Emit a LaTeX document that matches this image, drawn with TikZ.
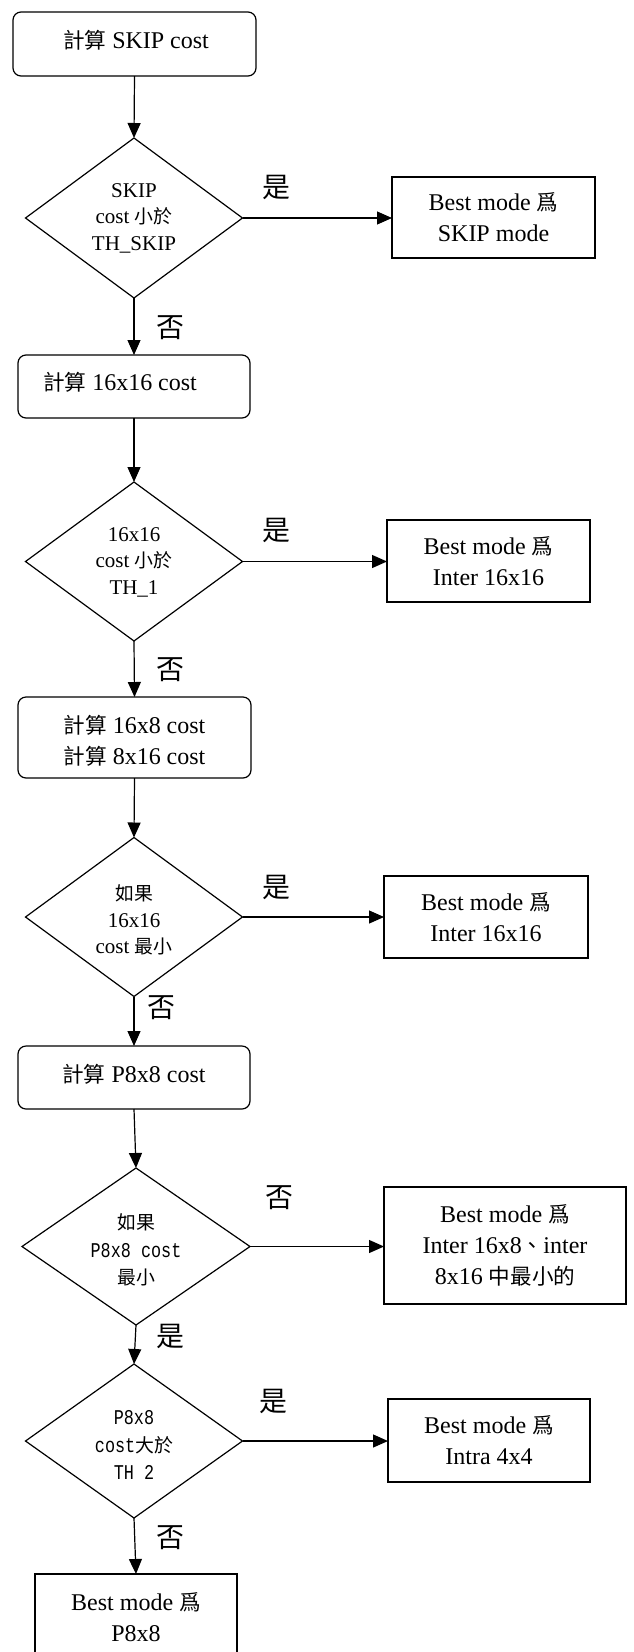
\documentclass[tikz,border=0pt]{standalone}
\usepackage{fontspec}
\setmainfont{Liberation Serif}
\newfontfamily\cjk{Noto Sans CJK TC}[Scale=0.9]
\newfontfamily\halfmono{Liberation Mono}[FakeStretch=0.8]
\usetikzlibrary{arrows.meta,shapes.geometric}
\newcommand{\zh}[1]{{\cjk #1}}

\tikzset{
  every node/.style={inner sep=0pt, outer sep=0pt},
  line/.style={line width=1.2pt},
  flow/.style={line, -{Triangle[length=15pt,width=13pt]}},
  btext/.style={font=\fontsize{24}{31}\selectfont, align=center},
  dtext/.style={font=\fontsize{21}{26.5}\selectfont, align=center},
  mtext/.style={font=\fontsize{21}{27.5}\selectfont\halfmono, align=center},
  yn/.style={font=\fontsize{31}{31}\selectfont\cjk},
  procbox/.style 2 args={draw, line, rounded corners=8pt,
    minimum width=#1, minimum height=#2},
  outbox/.style 2 args={draw, line, btext,
    minimum width=#1, minimum height=#2},
  decision/.style 2 args={draw, line, diamond, minimum width=#1,
    minimum height=#2},
}

\begin{document}
\begin{tikzpicture}[x=1pt, y=-1pt]
  \useasboundingbox (0,0) rectangle (633,1652);
  \fill[white] (0,0) rectangle (633,1652);
  \clip (0,0) rectangle (633,1652);

  % left column: processing steps and decisions
  \node[procbox={243pt}{64pt}] (c1) at (134.5,44) {};
  \node[btext] (c1t) at (136,40) {\zh{計算} SKIP cost};
  \node[decision={217pt}{160pt}] (d1) at (134,218) {};
  \node[dtext] (d1t) at (134,218) {SKIP\\cost \zh{小於}\\TH\_SKIP};

  \node[procbox={232pt}{63pt}] (c2) at (134,386.5) {};
  \node[btext] (c2t) at (120,382) {\zh{計算} 16x16 cost};
  \node[decision={217pt}{159pt}] (d2) at (134,561.5) {};
  \node[dtext] (d2t) at (134,562) {16x16\\cost \zh{小於}\\TH\_1};

  \node[procbox={233pt}{81pt}] (c3) at (134.5,737.5) {};
  \node[btext] (c3t) at (134.5,741) {\zh{計算} 16x8 cost\\\zh{計算} 8x16 cost};
  \node[decision={217pt}{159pt}] (d3) at (134,917) {};
  \node[dtext] (d3t) at (134,920) {\zh{如果}\\16x16\\cost \zh{最小}};

  \node[procbox={232pt}{63pt}] (c4) at (134,1077.5) {};
  \node[btext] (c4t) at (134,1074) {\zh{計算} P8x8 cost};
  \node[decision={228pt}{157pt}] (d4) at (136,1246.5) {};
  \node[mtext] (d4t) at (136,1250) {\zh{如果}\\P8x8 cost\\\zh{最小}};

  \node[decision={217pt}{154pt}] (d5) at (134,1441) {};
  \node[mtext] (d5t) at (134,1445) {P8x8\\cost\zh{大於}\\TH 2};

  \node[outbox={202pt}{86pt}] (r6) at (136,1617) {Best mode \zh{爲}\\P8x8};

  % right column: results
  \node[outbox={203pt}{81pt}] (r1) at (493.5,217.5) {Best mode \zh{爲}\\SKIP mode};
  \node[outbox={203pt}{82pt}] (r2) at (488.5,561) {Best mode \zh{爲}\\Inter 16x16};
  \node[outbox={204pt}{82pt}] (r3) at (486,917) {Best mode \zh{爲}\\Inter 16x16};
  \node[outbox={242pt}{117pt}] (r4) at (505,1245.5) {Best mode \zh{爲}\\Inter 16x8\zh{、}inter\\8x16 \zh{中最小的}};
  \node[outbox={202pt}{83pt}] (r5) at (489,1440.5) {Best mode \zh{爲}\\Intra 4x4};

  % branch labels
  \node[yn] (y1) at (276,187.5) {是};
  \node[yn] (n1) at (170,328) {否};
  \node[yn] (y2) at (276,530) {是};
  \node[yn] (n2) at (170,670) {否};
  \node[yn] (y3) at (276,887) {是};
  \node[yn] (n3) at (161,1008) {否};
  \node[yn] (n4) at (279,1198) {否};
  \node[yn] (y4) at (170,1336) {是};
  \node[yn] (y5) at (273,1401) {是};
  \node[yn] (n5) at (170,1538) {否};

  % vertical flow
  \draw[flow] (c1.south) -- (d1.north);
  \draw[flow] (d1.south) -- (c2.north);
  \draw[flow] (c2.south) -- (d2.north);
  \draw[flow] (d2.south) -- (c3.north);
  \draw[flow] (c3.south) -- (d3.north);
  \draw[flow] (d3.south) -- (c4.north);
  \draw[flow] (c4.south) -- (d4.north);
  \draw[flow] (d4.south) -- (d5.north);
  \draw[flow] (d5.south) -- (r6.north);

  % branches to the right
  \draw[flow] (d1.east) -- (d1.east -| r1.west);
  \draw[flow] (d2.east) -- (d2.east -| r2.west);
  \draw[flow] (d3.east) -- (d3.east -| r3.west);
  \draw[flow] (d4.east) -- (d4.east -| r4.west);
  \draw[flow] (d5.east) -- (d5.east -| r5.west);
\end{tikzpicture}
\end{document}
